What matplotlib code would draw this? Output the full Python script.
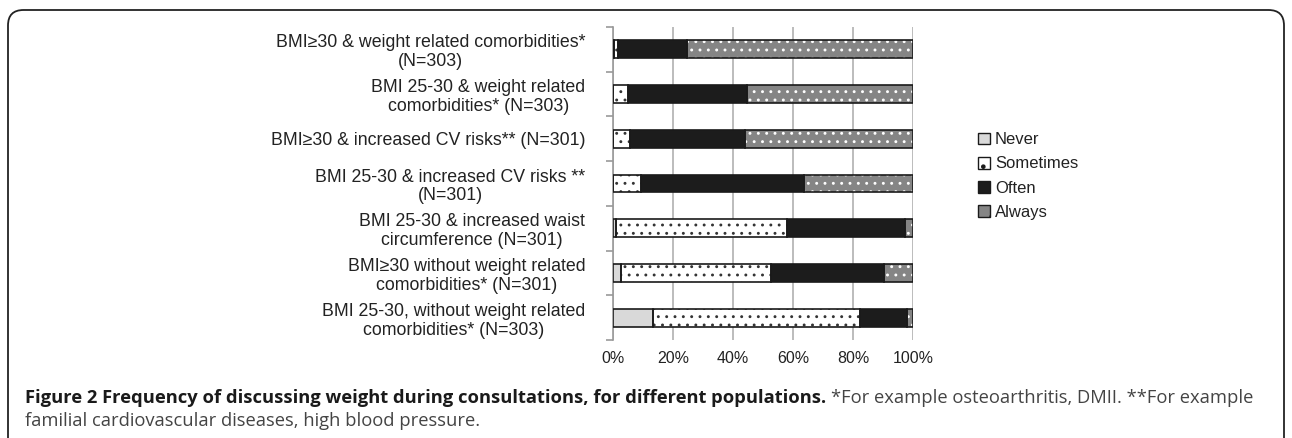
import matplotlib
matplotlib.use("Agg")
import matplotlib.pyplot as plt
from matplotlib.patches import FancyBboxPatch, Patch
import numpy as np

categories = [
    "BMI\u226530 & weight related comorbidities*\n(N=303)",
    "BMI 25-30 & weight related\ncomorbidities* (N=303)",
    "BMI\u226530 & increased CV risks** (N=301)",
    "BMI 25-30 & increased CV risks **\n(N=301)",
    "BMI 25-30 & increased waist\ncircumference (N=301)",
    "BMI\u226530 without weight related\ncomorbidities* (N=301)",
    "BMI 25-30, without weight related\ncomorbidities* (N=303)",
]
never = [0.3, 0.0, 0.0, 0.0, 0.9, 2.8, 13.3]
sometimes = [1.2, 5.0, 5.8, 9.2, 57.2, 50.0, 68.9]
often = [23.3, 39.8, 38.1, 54.5, 39.1, 37.5, 15.8]
always = [75.2, 55.2, 56.1, 36.3, 2.8, 9.7, 2.0]
series_names = ["Never", "Sometimes", "Often", "Always"]
xticks = [0, 20, 40, 60, 80, 100]
xticklabels = ["0%", "20%", "40%", "60%", "80%", "100%"]

plt.rcParams['font.family'] = ['Liberation Sans', 'DejaVu Sans']
plt.rcParams['hatch.linewidth'] = 0.9

W, H = 1292, 438
fig = plt.figure(figsize=(W / 100, H / 100), dpi=100)

# outer rounded border
border = FancyBboxPatch((8 / W, -0.1), (W - 16) / W, 1 - 10 / H + 0.1,
                        boxstyle="round,pad=0,rounding_size=0.012",
                        transform=fig.transFigure, fill=False,
                        edgecolor="#222222", linewidth=1.3,
                        mutation_aspect=W / H)
fig.patches.append(border)

ax = fig.add_axes([613 / W, 1 - 340 / H, 300 / W, (340 - 27) / H])

y = np.arange(len(categories))
h = 0.4
data = [never, sometimes, often, always]
faces = ["#d9d9d9", "#ffffff", "#1c1c1c", "#858585"]
hatches = [None, "..", None, ".."]
hatch_cols = [None, "#333333", None, "#ffffff"]

left = np.zeros(len(categories))
for vals, fc, hat, hc in zip(data, faces, hatches, hatch_cols):
    vals = np.array(vals)
    if hat is not None:
        ax.barh(y, vals, left=left, height=h, color=fc, hatch=hat,
                edgecolor=hc, linewidth=0, zorder=3)
    else:
        ax.barh(y, vals, left=left, height=h, color=fc, linewidth=0, zorder=3)
    ax.barh(y, vals, left=left, height=h, fill=False,
            edgecolor="#1a1a1a", linewidth=1.2, zorder=4)
    left = left + vals

ax.set_xlim(0, 100)
ax.set_ylim(len(categories) - 0.5, -0.5)
ax.set_xticks(xticks)
ax.set_xticklabels(xticklabels, fontsize=11.5, color="#222222")
ax.tick_params(axis='x', length=0, pad=8)
ax.grid(axis='x', color="#b0b0b0", linewidth=1.2, zorder=0)

ax.set_yticks(y)
ax.set_yticklabels(categories, fontsize=12.8, color="#222222", linespacing=1.15)
for lab in ax.get_yticklabels():
    lab.set_multialignment('center')
ax.tick_params(axis='y', length=0, pad=20)
ax.set_yticks(np.arange(-0.5, len(categories), 1), minor=True)
ax.tick_params(axis='y', which='minor', length=5, color="#999999", width=1.2)
for s in ["top", "right", "bottom"]:
    ax.spines[s].set_visible(False)
ax.spines["left"].set_color("#999999")
ax.spines["left"].set_linewidth(1.2)

handles = [Patch(facecolor=faces[i], edgecolor="#1a1a1a",
                 hatch=(None if i in (0, 2) else "."), linewidth=1.0)
           for i in range(4)]
leg = fig.legend(handles, series_names, loc="upper left",
                 bbox_to_anchor=(970 / W, 1 - 124 / H), frameon=False,
                 fontsize=12, handlelength=0.7, handleheight=0.7,
                 handletextpad=0.3, labelspacing=0.55, borderpad=0)
for t in leg.get_texts():
    t.set_color("#222222")

cap_font = ['Open Sans', 'DejaVu Sans']
cap_fs = 13.2
t0 = fig.text(25 / W, 1 - 403 / H,
              "Figure 2 Frequency of discussing weight during consultations, for different populations.",
              fontsize=cap_fs, fontweight="bold", family=cap_font, color="#1a1a1a", va="baseline")
fig.text(25 / W, 1 - 426 / H, "familial cardiovascular diseases, high blood pressure.",
         fontsize=cap_fs, family=cap_font, color="#444444", va="baseline")

fig.canvas.draw()
bb = t0.get_window_extent()
fig.text((bb.x1 + 5) / W, 1 - 403 / H,
         "*For example osteoarthritis, DMII. **For example",
         fontsize=cap_fs, family=cap_font, color="#444444", va="baseline")

fig.savefig("out.png", dpi=100)
